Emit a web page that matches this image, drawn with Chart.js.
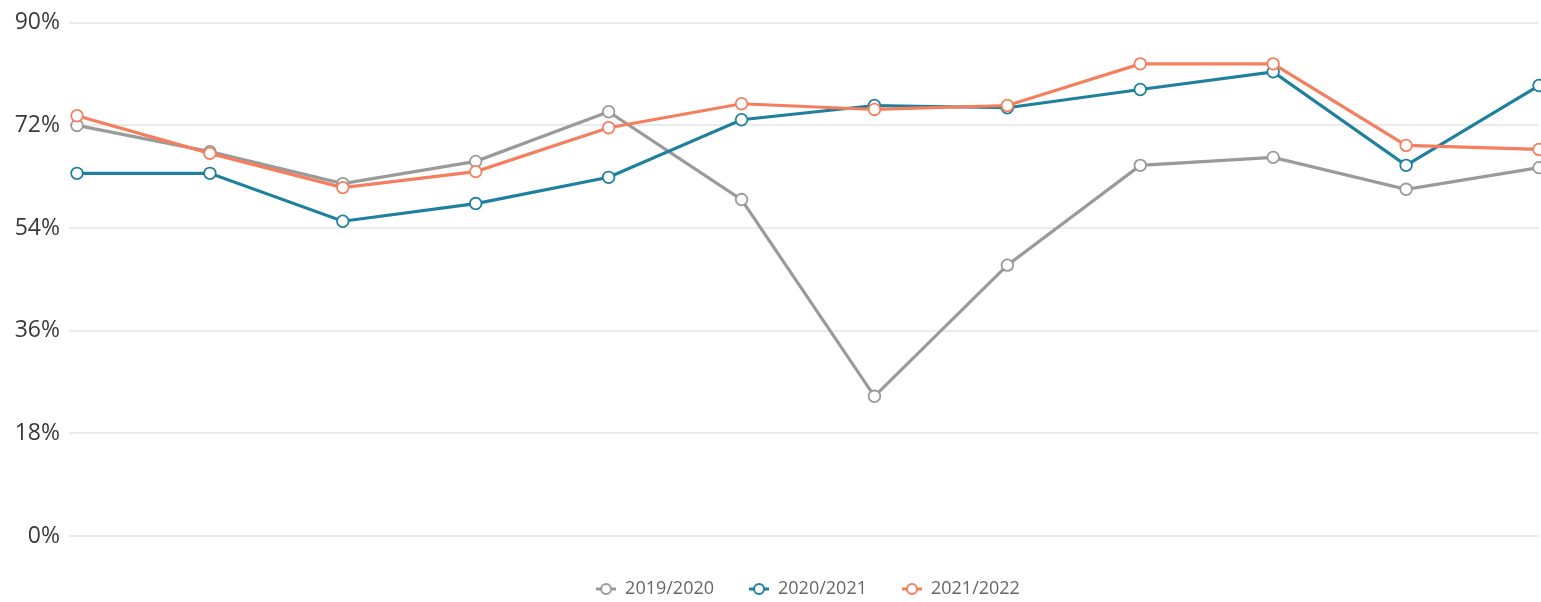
<!DOCTYPE html>
<html>
<head>
<meta charset="utf-8">
<script src="https://cdn.jsdelivr.net/npm/chart.js@4/dist/chart.umd.min.js"></script>
<style>
  html, body { margin: 0; padding: 0; background: #fff; overflow: hidden; }
  #wrap { width: 1541px; height: 602px; position: relative; }
</style>
</head>
<body>
<div id="wrap"><canvas id="c"></canvas></div>
<script>
const categories = ['Oct', 'Nov', 'Dec', 'Jan', 'Feb', 'Mar', 'Apr', 'May', 'Jun', 'Jul', 'Aug', 'Sep'];
const seriesNames = ['2019/2020', '2020/2021', '2021/2022'];
const values2019 = [72.0, 67.4, 61.8, 65.7, 74.4, 59.0, 24.5, 47.5, 65.0, 66.4, 60.8, 64.6];
const values2020 = [63.6, 63.6, 55.2, 58.3, 62.9, 73.0, 75.5, 75.1, 78.3, 81.4, 65.0, 79.0];
const values2021 = [73.7, 67.1, 61.1, 63.9, 71.6, 75.8, 74.8, 75.5, 82.8, 82.8, 68.5, 67.8];
const yTicks = [0, 18, 36, 54, 72, 90];

const colors = ['#9a9a9a', '#1f809e', '#f47f5f'];
const seriesValues = [values2019, values2020, values2021];

function legendIcon(color) {
  const cv = document.createElement('canvas');
  cv.width = 20; cv.height = 14;
  const g = cv.getContext('2d');
  g.strokeStyle = color;
  g.lineWidth = 3;
  g.beginPath(); g.moveTo(0, 7); g.lineTo(20, 7); g.stroke();
  g.fillStyle = '#fff';
  g.lineWidth = 2;
  g.beginPath(); g.arc(10, 7, 5, 0, Math.PI * 2); g.fill(); g.stroke();
  return cv;
}

const datasets = seriesNames.map((name, i) => ({
  label: name,
  data: seriesValues[i],
  borderColor: colors[i],
  backgroundColor: '#ffffff',
  pointBackgroundColor: '#ffffff',
  pointBorderColor: colors[i],
  pointRadius: 5.8,
  pointHoverRadius: 6.5,
  pointBorderWidth: 1.8,
  borderWidth: 3.2,
  tension: 0,
  fill: false,
  order: 3 - i,
  clip: false
}));

const chart = new Chart(document.getElementById('c'), {
  type: 'line',
  data: { labels: categories, datasets },
  options: {
    responsive: true,
    maintainAspectRatio: false,
    animation: false,
    layout: { autoPadding: false, padding: { top: 8, right: 2, left: 0, bottom: -6 } },
    scales: {
      x: {
        display: true,
        offset: false,
        ticks: { display: false },
        grid: { display: false, drawTicks: false },
        border: { display: false },
        afterFit: (scale) => {
          scale.height = 9;
          scale.paddingLeft = 0;
          scale.paddingRight = 0;
        }
      },
      y: {
        min: 0,
        max: 90,
        afterBuildTicks: (axis) => { axis.ticks = yTicks.map(v => ({ value: v })); },
        afterFit: (scale) => { scale.width = 77; },
        ticks: {
          padding: 9,
          color: '#3a3a3a',
          font: { family: '"Open Sans"', size: 23 },
          callback: (v) => v + '%'
        },
        grid: {
          color: '#ebebeb',
          lineWidth: 2,
          drawTicks: true,
          tickLength: 8
        },
        border: { display: false }
      }
    },
    plugins: {
      legend: {
        position: 'bottom',
        fullSize: false,
        labels: {
          usePointStyle: true,
          pointStyleWidth: 20,
          boxHeight: 14,
          padding: 35,
          color: '#666666',
          font: { family: '"Open Sans"', size: 18 },
          sort: (a, b) => a.datasetIndex - b.datasetIndex,
          generateLabels: (chart) => chart.data.datasets.map((ds, i) => ({
            text: ds.label,
            fillStyle: '#fff',
            strokeStyle: ds.borderColor,
            fontColor: '#666666',
            lineWidth: 0,
            pointStyle: legendIcon(ds.borderColor),
            hidden: !chart.isDatasetVisible(i),
            datasetIndex: i
          }))
        }
      },
      tooltip: { enabled: true }
    }
  }
});
</script>
</body>
</html>
